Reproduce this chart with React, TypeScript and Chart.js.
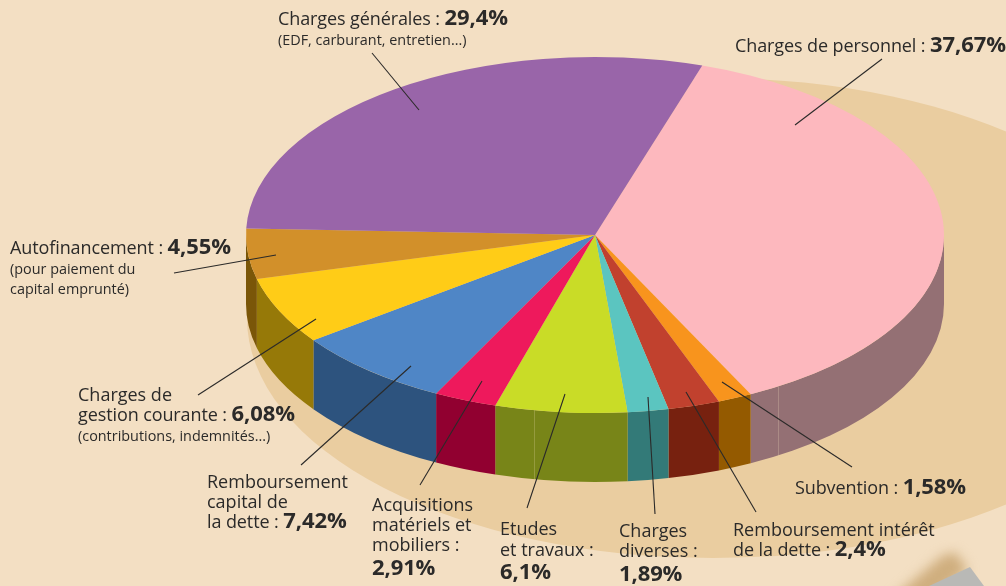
import React, { useEffect, useRef } from "react";
import { Chart, registerables } from "chart.js";

Chart.register(...registerables);

const categories = [
  "Charges de personnel",
  "Subvention",
  "Remboursement intérêt de la dette",
  "Charges diverses",
  "Etudes et travaux",
  "Acquisitions matériels et mobiliers",
  "Remboursement capital de la dette",
  "Charges de gestion courante",
  "Autofinancement",
  "Charges générales",
];
const shares = [37.67, 1.58, 2.4, 1.89, 6.1, 2.91, 7.42, 6.08, 4.55, 29.4];
const topColors = ["#fdb8be", "#f8941d", "#c1412e", "#5bc5c0", "#c9dc27", "#ee195c", "#4f86c6", "#ffcc17", "#d2902a", "#9965a9"];
const sideColors = ["#947074", "#945a00", "#77210f", "#337a78", "#788518", "#910030", "#2d537e", "#967908", "#7a5608", "#6b4a80"];

const BG = "#f3dfc3";
const SHADOW = "#eacda0";
const ELLIPSE = { cx: 595, cy: 235, rx: 349, ry: 178, depth: 69 };

const leaders: number[][] = [
  [882, 59, 795, 125],
  [372, 53, 419, 110],
  [174, 273, 276, 255],
  [198, 395, 316, 319],
  [301, 465, 411, 366],
  [420, 485, 482, 381],
  [527, 508, 565, 394],
  [655, 514, 648, 397],
  [756, 512, 686, 392],
  [852, 467, 722, 382],
];

type Line = { x: number; base: number; text?: string; bold?: string; size?: number };
const SIZE = 18;
const BOLD = 22;
const SMALL = 14.4;
const labels: Line[] = [
  { x: 735, base: 52, text: "Charges de personnel : ", bold: "37,67%" },
  { x: 278, base: 25, text: "Charges générales : ", bold: "29,4%" },
  { x: 278, base: 45, text: "(EDF, carburant, entretien...)", size: SMALL },
  { x: 10, base: 254, text: "Autofinancement : ", bold: "4,55%" },
  { x: 10, base: 274, text: "(pour paiement du", size: SMALL },
  { x: 10, base: 294, text: "capital emprunté)", size: SMALL },
  { x: 78, base: 401, text: "Charges de" },
  { x: 78, base: 421, text: "gestion courante : ", bold: "6,08%" },
  { x: 78, base: 441, text: "(contributions, indemnités...)", size: SMALL },
  { x: 207, base: 488, text: "Remboursement" },
  { x: 207, base: 508, text: "capital de" },
  { x: 207, base: 528, text: "la dette : ", bold: "7,42%" },
  { x: 372, base: 511, text: "Acquisitions" },
  { x: 372, base: 531, text: "matériels et" },
  { x: 372, base: 551, text: "mobiliers :" },
  { x: 372, base: 575, bold: "2,91%" },
  { x: 500, base: 535, text: "Etudes" },
  { x: 500, base: 556, text: "et travaux :" },
  { x: 500, base: 579, bold: "6,1%" },
  { x: 619, base: 537, text: "Charges" },
  { x: 619, base: 557, text: "diverses :" },
  { x: 619, base: 581, bold: "1,89%" },
  { x: 733, base: 536, text: "Remboursement intérêt" },
  { x: 733, base: 556, text: "de la dette : ", bold: "2,4%" },
  { x: 795, base: 494, text: "Subvention : ", bold: "1,58%" },
];

const pie3d = {
  id: "pie3d",
  beforeDatasetsDraw(chart: any) {
    const ctx = chart.ctx;
    const { cx, cy, rx, ry, depth } = ELLIPSE;
    const arcs = chart.getDatasetMeta(0).data;

    ctx.save();
    ctx.fillStyle = BG;
    ctx.fillRect(0, 0, chart.width, chart.height);
    ctx.fillStyle = SHADOW;
    ctx.beginPath();
    ctx.ellipse(713, 318, 466, 240, 0, 0, Math.PI * 2);
    ctx.fill();

    // object in the lower right corner
    ctx.save();
    ctx.filter = "blur(6px)";
    ctx.fillStyle = "#cfae7e";
    ctx.beginPath();
    ctx.moveTo(890, 600);
    ctx.lineTo(942, 556);
    ctx.lineTo(955, 552);
    ctx.lineTo(968, 570);
    ctx.lineTo(930, 600);
    ctx.closePath();
    ctx.fill();
    ctx.restore();
    ctx.fillStyle = "#b9b9b6";
    ctx.beginPath();
    ctx.moveTo(929, 586);
    ctx.lineTo(970, 567);
    ctx.lineTo(984, 586);
    ctx.closePath();
    ctx.fill();

    // walls of the cylinder, from each arc's own angles
    arcs.forEach((arc: any, i: number) => {
      const { startAngle, endAngle } = arc.getProps(["startAngle", "endAngle"]);
      for (let k = -1; k <= 1; k++) {
        const a = Math.max(startAngle + k * Math.PI * 2, 0);
        const b = Math.min(endAngle + k * Math.PI * 2, Math.PI);
        if (b <= a) continue;
        ctx.fillStyle = sideColors[i];
        ctx.beginPath();
        ctx.ellipse(cx, cy, rx, ry, 0, a, b);
        ctx.ellipse(cx, cy + depth, rx, ry, 0, b, a, true);
        ctx.closePath();
        ctx.fill();
      }
    });

    // printed seams on the walls
    ctx.strokeStyle = "rgba(255,235,200,0.22)";
    ctx.lineWidth = 1;
    [534, 778].forEach((x) => {
      const y = cy + ry * Math.sqrt(1 - ((x - cx) / rx) ** 2);
      ctx.beginPath();
      ctx.moveTo(x + 0.5, y);
      ctx.lineTo(x + 0.5, y + depth);
      ctx.stroke();
    });
    ctx.restore();

    // squash the library's round pie into the tilted ellipse
    const a0 = arcs[0];
    ctx.save();
    ctx.translate(cx, cy);
    ctx.scale(rx / a0.outerRadius, ry / a0.outerRadius);
    ctx.translate(-a0.x, -a0.y);
  },
  afterDatasetsDraw(chart: any) {
    const ctx = chart.ctx;
    ctx.restore();
    ctx.save();
    ctx.strokeStyle = "#2b2a29";
    ctx.lineWidth = 1.1;
    leaders.forEach(([x1, y1, x2, y2]) => {
      ctx.beginPath();
      ctx.moveTo(x1, y1);
      ctx.lineTo(x2, y2);
      ctx.stroke();
    });
    ctx.restore();
  },
};

export default function App() {
  const ref = useRef<HTMLCanvasElement>(null);
  useEffect(() => {
    const chart = new Chart(ref.current as HTMLCanvasElement, {
      type: "pie",
      data: {
        labels: categories,
        datasets: [
          {
            data: shares,
            backgroundColor: topColors,
            borderWidth: 0,
            clip: false,
          } as any,
        ],
      },
      options: {
        responsive: false,
        animation: false,
        rotation: 17.9,
        layout: { padding: 0 },
        plugins: { legend: { display: false }, tooltip: { enabled: false } },
      },
      plugins: [pie3d],
    });
    return () => chart.destroy();
  }, []);

  return (
    <div style={{ position: "absolute", left: 0, top: 0, width: 1006, height: 586, overflow: "hidden", background: BG }}>
      <canvas ref={ref} width={1006} height={586} style={{ position: "absolute", left: 0, top: 0 }} />
      {labels.map((l, i) => {
        const size = l.bold ? BOLD : l.size ?? SIZE;
        return (
          <div
            key={i}
            style={{
              position: "absolute",
              left: l.x,
              top: l.base - size * 1.069,
              whiteSpace: "pre",
              fontFamily: "'Open Sans', sans-serif",
              fontSize: l.size ?? SIZE,
              letterSpacing: l.bold ? "-0.1px" : undefined,
              color: "#2b2a29",
            }}
          >
            {l.text}
            {l.bold ? <span style={{ fontSize: BOLD, fontWeight: 700 }}>{l.bold}</span> : null}
          </div>
        );
      })}
    </div>
  );
}
